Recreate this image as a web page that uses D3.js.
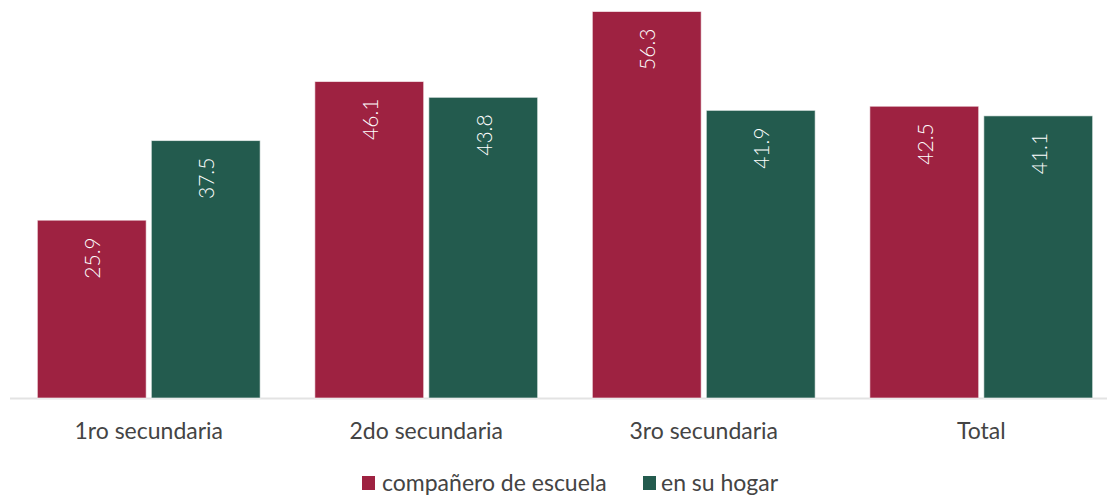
<!DOCTYPE html>
<html><head><meta charset="utf-8">
<script src="https://cdn.jsdelivr.net/npm/d3@7"></script>
<style>body{margin:0;background:#fff}svg{display:block}</style>
</head><body>
<svg id="c" width="1107" height="495"></svg>
<script>
const categories = ["1ro secundaria", "2do secundaria", "3ro secundaria", "Total"];
const seriesNames = ["compañero de escuela", "en su hogar"];
const companero = [25.9, 46.1, 56.3, 42.5];
const hogar = [37.5, 43.8, 41.9, 41.1];
const colors = ["#9E2241", "#235B4E"];

const values = [companero, hogar];
const svg = d3.select("#c");
const font = "Lato, sans-serif";
const baseY = 398;

const x0 = d3.scaleBand().domain(categories).range([10, 1120]).paddingInner(0.197).paddingOuter(0.0985);
const x1 = d3.scaleBand().domain(seriesNames).range([0, x0.bandwidth()]).paddingInner(0.045);
const y = d3.scaleLinear().domain([0, 56.3]).range([baseY, 11.5]);

// axis line
svg.append("line").attr("x1", 10).attr("x2", 1107).attr("y1", baseY + 0.5).attr("y2", baseY + 0.5)
  .attr("stroke", "#e3e3e3").attr("stroke-width", 2);

const g = svg.append("g");
categories.forEach((c, i) => {
  seriesNames.forEach((s, j) => {
    const v = values[j][i];
    const bx = x0(c) + x1(s);
    g.append("rect").attr("x", bx).attr("y", y(v)).attr("width", x1.bandwidth()).attr("height", baseY - y(v))
      .attr("fill", colors[j]).attr("stroke", "rgba(255,255,255,0.6)").attr("stroke-width", 1);
    const cx = bx + x1.bandwidth() / 2;
    const ty = y(v) + 17;
    g.append("text").attr("transform", `translate(${cx},${ty}) rotate(-90)`)
      .attr("text-anchor", "end").attr("dominant-baseline", "central")
      .attr("fill", "#fff").attr("font-family", font).attr("font-weight", 300).attr("font-size", 21)
      .text(v.toFixed(1));
  });
});

// x labels
const xAxis = d3.axisBottom(x0).tickSize(0).tickPadding(0);
const ax = svg.append("g").attr("transform", `translate(0,${baseY})`).call(xAxis);
ax.select(".domain").remove();
ax.selectAll("text").attr("y", 33).attr("dy", "0.35em").attr("font-family", font).attr("font-size", 23).attr("fill", "#444");

// legend
const legendPos = [[362, 382], [643, 661]];
seriesNames.forEach((s, j) => {
  svg.append("rect").attr("x", legendPos[j][0]).attr("y", 476).attr("width", 13).attr("height", 14).attr("fill", colors[j]);
  svg.append("text").attr("x", legendPos[j][1]).attr("y", 482).attr("dominant-baseline", "central")
    .attr("font-family", font).attr("font-size", 23).attr("fill", "#444").text(s);
});
</script>
</body></html>
